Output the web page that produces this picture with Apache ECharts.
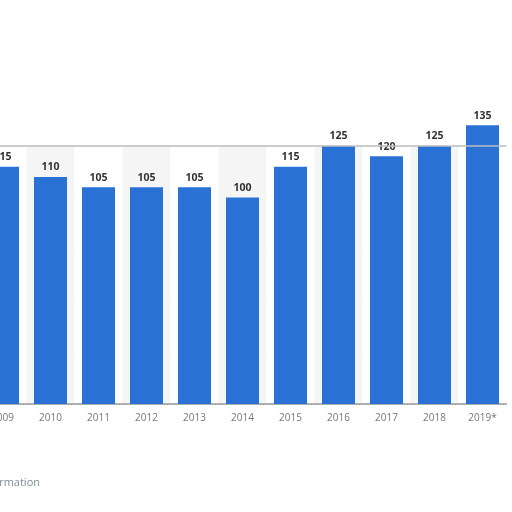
<!DOCTYPE html>
<html><head><meta charset="utf-8">
<script src="https://cdn.jsdelivr.net/npm/echarts@6/dist/echarts.min.js"></script>
<style>html,body{margin:0;padding:0;background:#fff}#c{width:512px;height:512px}</style>
</head><body><div id="c"></div>
<script>
const categories = ['2009','2010','2011','2012','2013','2014','2015','2016','2017','2018','2019*'];
const values = [115,110,105,105,105,100,115,125,120,125,135];
const yTicks = {min:0, max:125, interval:25};

const chart = echarts.init(document.getElementById('c'));
chart.setOption({
  animation:false,
  backgroundColor:'#fff',
  title:{text:'Additional Information', right:467, top:472,
    textStyle:{fontFamily:'Open Sans', fontSize:11, fontWeight:'normal', color:'#7f8c99'}},
  grid:{left:-21.5, right:5.5, top:146, bottom:108, containLabel:false, outerBoundsMode:'none'},
  xAxis:{type:'category', data:categories,
    axisLine:{lineStyle:{color:'#999', width:1.5}},
    axisTick:{show:false},
    axisLabel:{color:'#777', fontSize:10, fontFamily:'Open Sans', margin:9},
    splitArea:{show:true, areaStyle:{color:['#ffffff','#f5f5f5']}}
  },
  yAxis:{type:'value', min:yTicks.min, max:yTicks.max, interval:yTicks.interval,
    axisLabel:{show:false}, axisLine:{show:false}, axisTick:{show:false},
    splitLine:{lineStyle:{color:'#ccc', type:[2,2], width:1}}
  },
  series:[
    {type:'scatter', data:[], z:1,
      markLine:{silent:true, symbol:'none', label:{show:false},
        lineStyle:{color:'#bdbdbd', type:'solid', width:1.5},
        data:[{yAxis:yTicks.max}]}},
    {type:'bar', data:values, barWidth:33, clip:false, z:3,
      itemStyle:{color:'#2a71d6'},
      label:{show:true, position:'top', distance:4, color:'#333',
        fontFamily:'Open Sans', fontWeight:'bold', fontSize:10.5}}
  ]
});
</script></body></html>
